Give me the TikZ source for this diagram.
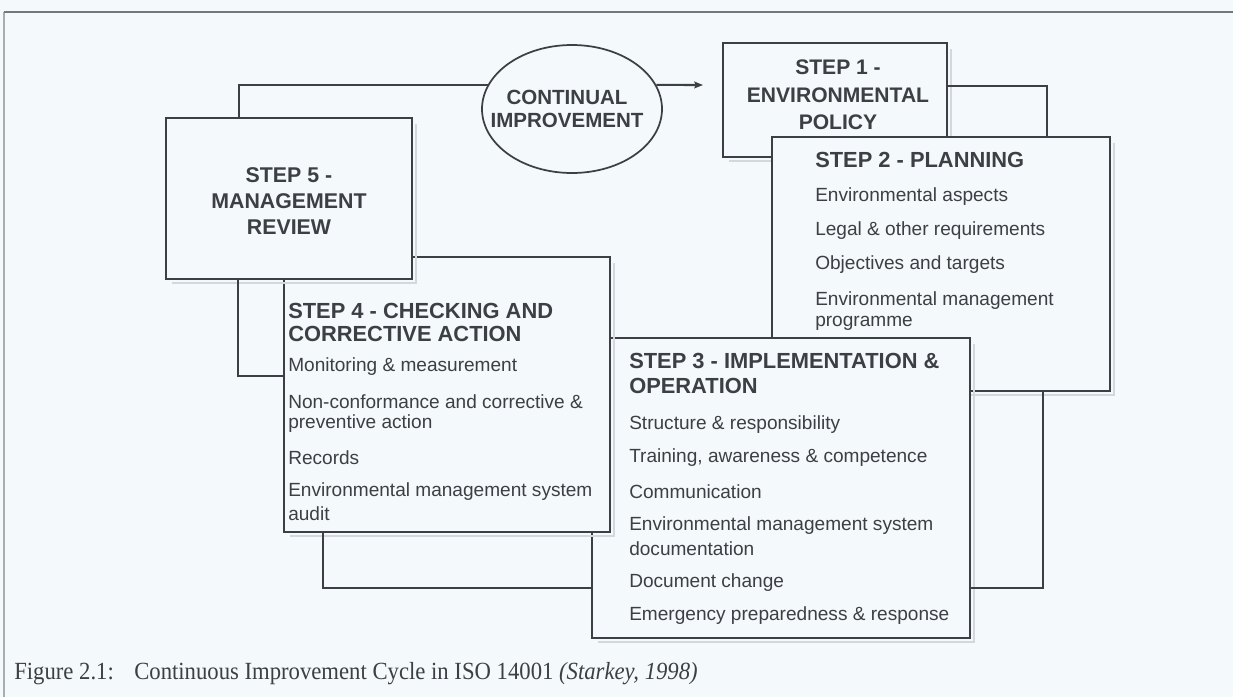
\documentclass[tikz,border=0pt]{standalone}
\usepackage{fontspec}
\setmainfont{Liberation Serif}
\setsansfont{Liberation Sans}
\usetikzlibrary{arrows.meta,shapes.geometric}
\definecolor{paper}{HTML}{F4F9FB}
\definecolor{ink}{HTML}{3C3F43}
\definecolor{frameline}{HTML}{74787C}
\definecolor{frameside}{HTML}{A9ADB1}
\definecolor{smudge}{HTML}{D3D8DC}
\begin{document}
\begin{tikzpicture}[x=0.75pt,y=-0.75pt,
  stepbox/.style={draw=ink,line width=1.6pt,fill=paper,inner sep=0pt},
  link/.style={draw=ink,line width=1.6pt},
  smear/.style={draw=smudge,line width=1pt},
  ttl/.style={font=\sffamily\bfseries\fontsize{16.4}{19}\selectfont,text=ink,inner sep=0pt,anchor=west},
  itm/.style={font=\sffamily\fontsize{14.3}{17}\selectfont,text=ink,inner sep=0pt,anchor=west},
  ctr/.style={font=\sffamily\bfseries\fontsize{16}{19.8}\selectfont,text=ink,align=center,inner sep=0pt}]
% page and frame
\fill[paper] (0,0) rectangle (1233,697);
\useasboundingbox (0,0) rectangle (1233,697);
\draw[frameside,line width=0.8pt] (4,697) -- (4,12);
\draw[frameline,line width=1.5pt] (4,12) -- (1233,12);

% step boxes, stacked back to front, each with a faint offset edge below and to the right
\draw[smear] (729,161) -- (951,161) -- (951,49);
\node[stepbox,minimum width=168pt,minimum height=85.5pt] (b1) at (835,100) {};
\node[ctr,font=\sffamily\bfseries\fontsize{15.8}{20.5}\selectfont] (s1) at (838,95) {STEP 1 -\\ENVIRONMENTAL\\POLICY};
\coordinate (s1r) at (947,86);

\draw[smear] (778,395) -- (1114,395) -- (1114,143);
\node[stepbox,minimum width=253.5pt,minimum height=190.5pt] (b2) at (941,264) {};
\coordinate (s2t) at (1047,137);
\coordinate (s2b) at (1043,391);
\node[ttl] (s2h) at (815,160) {STEP 2 - PLANNING};
\node[itm] (s2a) at (815,197) {Environmental aspects};
\node[itm] (s2l) at (815,231) {Legal \& other requirements};
\node[itm] (s2c) at (815,265) {Objectives and targets};
\node[itm] (s2d) at (815,301) {Environmental management};
\node[itm] (s2e) at (815,323) {programme};

\draw[smear] (598,642) -- (974,642) -- (974,344);
\node[stepbox,minimum width=283.5pt,minimum height=225pt] (b3) at (781,488) {};
\coordinate (s3l) at (592,588);
\coordinate (s3r) at (970,588);
\node[ttl] (s3h) at (629,361) {STEP 3 - IMPLEMENTATION \&};
\node[ttl] (s3h2) at (629,386) {OPERATION};
\node[itm] (s3a) at (629,425) {Structure \& responsibility};
\node[itm] (s3b) at (629,458) {Training, awareness \& competence};
\node[itm] (s3c) at (629,492) {Communication};
\node[itm] (s3d) at (629,526) {Environmental management system};
\node[itm] (s3e) at (629,549) {documentation};
\node[itm] (s3f) at (629,583) {Document change};
\node[itm] (s3g) at (629,616) {Emergency preparedness \& response};

\draw[smear] (290,536) -- (614,536) -- (614,263);
\node[stepbox,minimum width=244.5pt,minimum height=206.25pt] (b4) at (447,394.5) {};
\coordinate (s4l) at (284,376);
\coordinate (s4b) at (323,532);
\node[ttl] (s4h) at (288,311) {STEP 4 - CHECKING AND};
\node[ttl] (s4h2) at (288,334) {CORRECTIVE ACTION};
\node[itm] (s4a) at (288,367) {Monitoring \& measurement};
\node[itm] (s4n) at (288,402) {Non-conformance and corrective \&};
\node[itm] (s4c) at (288,424) {preventive action};
\node[itm] (s4d) at (288,458) {Records};
\node[itm] (s4e) at (288,492) {Environmental management system};
\node[itm] (s4f) at (288,514) {audit};

\draw[smear] (172,283) -- (416,283) -- (416,124);
\node[stepbox,minimum width=184.5pt,minimum height=120.75pt] (b5) at (289,198.5) {};
\node[ctr] (s5) at (289,201) {STEP 5 -\\MANAGEMENT\\REVIEW};
\coordinate (s5t) at (239,118);
\coordinate (s5b) at (238,279);

% continual improvement
\node[draw=ink,line width=1.3pt,ellipse,minimum width=135pt,minimum height=96pt,inner sep=0pt] (ci) at (572,109) {};
\node[ctr,font=\sffamily\bfseries\fontsize{15.4}{17.5}\selectfont] (citext) at (567,109) {CONTINUAL\\IMPROVEMENT};
\coordinate (tip) at (703,85);

% connectors
\draw[link] (s5t) |- (ci.164);
\draw[link,-{Stealth[length=6.5pt,width=5pt,inset=1pt]}] (ci.16) -- (tip);
\draw[link] (s1r) -| (s2t);
\draw[link] (s2b) |- (s3r);
\draw[link] (s4b) |- (s3l);
\draw[link] (s5b) |- (s4l);

% caption
\node[anchor=base west,inner sep=0pt,font=\fontsize{18.5}{22}\selectfont,text=ink] (cap) at (14,679)
  {\scalebox{0.92}[1]{Figure 2.1:\hspace{0.9em}Continuous Improvement Cycle in ISO 14001 \textit{(Starkey, 1998)}}};
\end{tikzpicture}
\end{document}
